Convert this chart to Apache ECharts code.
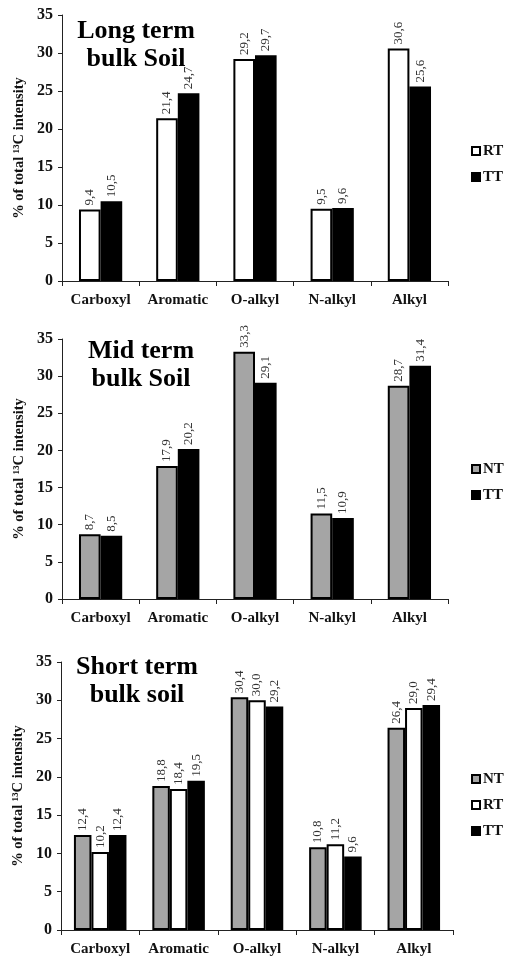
<!DOCTYPE html>
<html>
<head>
<meta charset="utf-8">
<script src="https://cdn.jsdelivr.net/npm/echarts@6/dist/echarts.min.js"></script>
<style>
html,body{margin:0;padding:0;background:#fff;}
#c{width:505px;height:960px;}
</style>
</head>
<body>
<div id="c"></div>
<script>
const categories = ['Carboxyl', 'Aromatic', 'O-alkyl', 'N-alkyl', 'Alkyl'];
const yTicks = [0, 5, 10, 15, 20, 25, 30, 35];

const longRT = [9.4, 21.4, 29.2, 9.5, 30.6];
const longTT = [10.5, 24.7, 29.7, 9.6, 25.6];

const midNT = [8.7, 17.9, 33.3, 11.5, 28.7];
const midTT = [8.5, 20.2, 29.1, 10.9, 31.4];

const shortNT = [12.4, 18.8, 30.4, 10.8, 26.4];
const shortRT = [10.2, 18.4, 30.0, 11.2, 29.0];
const shortTT = [12.4, 19.5, 29.2, 9.6, 29.4];

const titles = ['Long term\nbulk Soil', 'Mid term\nbulk Soil', 'Short term\nbulk soil'];

const FONT = '"Liberation Serif", "Times New Roman", serif';
const colors = { NT: '#a5a5a5', RT: '#ffffff', TT: '#000000' };

const grids = [
  { left: 62, right: 57, top: 15, height: 266 },
  { left: 62, right: 57, top: 339, height: 260 },
  { left: 61, right: 52, top: 662, height: 268 }
];

function xAxis(i) {
  return {
    type: 'category', gridIndex: i, data: categories,
    axisLine: { lineStyle: { color: '#222', width: 1 } },
    axisTick: { show: true, alignWithLabel: false, length: 5, lineStyle: { color: '#222' } },
    axisLabel: { interval: 0, margin: 12, color: '#111', fontFamily: FONT, fontWeight: 'bold', fontSize: 15 }
  };
}
function yAxis(i) {
  return {
    type: 'value', gridIndex: i, min: yTicks[0], max: yTicks[yTicks.length - 1], interval: 5,
    name: '% of total ¹³C intensity', nameLocation: 'middle', nameRotate: 90, nameGap: 35,
    nameMoveOverlap: false,
    nameTextStyle: { color: '#111', fontFamily: FONT, fontWeight: 'bold', fontSize: 14.5 },
    axisLine: { show: true, lineStyle: { color: '#222', width: 1 } },
    axisTick: { show: true, length: 4, lineStyle: { color: '#222' } },
    splitLine: { show: false },
    axisLabel: { margin: 9, color: '#111', fontFamily: FONT, fontWeight: 'bold', fontSize: 16 }
  };
}
function bar(name, data, i, gap) {
  return {
    type: 'bar', name: name, data: data, xAxisIndex: i, yAxisIndex: i,
    barGap: '0%', barCategoryGap: gap,
    itemStyle: { color: colors[name], borderColor: '#000', borderWidth: 2 },
    label: {
      show: true, position: 'top', rotate: 90, align: 'left', verticalAlign: 'middle', distance: 4,
      fontFamily: FONT, fontSize: 13, color: '#333',
      formatter: p => p.value.toFixed(1).replace('.', ',')
    }
  };
}
function legend(names, top) {
  return {
    orient: 'vertical', left: 466, top: top, itemWidth: 8, itemHeight: 8, itemGap: 10,
    icon: 'rect', data: names, selectedMode: false,
    textStyle: { color: '#111', fontFamily: FONT, fontWeight: 'bold', fontSize: 15, lineHeight: 16, padding: [0, 0, 0, -2] }
  };
}
const titleX = [131, 136, 132];
const titleTop = [12, 332, 648];

const option = {
  animation: false,
  backgroundColor: '#fff',
  title: titles.map((t, i) => ({
    text: t, left: titleX[i], top: titleTop[i], textAlign: 'center',
    textStyle: { fontFamily: FONT, fontWeight: 'bold', fontSize: 26, lineHeight: 28, color: '#000' }
  })),
  grid: grids,
  xAxis: [xAxis(0), xAxis(1), xAxis(2)],
  yAxis: [yAxis(0), yAxis(1), yAxis(2)],
  legend: [legend(['RT', 'TT'], 138), legend(['NT', 'TT'], 456), legend(['NT', 'RT', 'TT'], 766)],
  series: [
    bar('RT', longRT, 0, '44%'), bar('TT', longTT, 0, '44%'),
    bar('NT', midNT, 1, '44%'), bar('TT', midTT, 1, '44%'),
    bar('NT', shortNT, 2, '33%'), bar('RT', shortRT, 2, '33%'), bar('TT', shortTT, 2, '33%')
  ]
};
echarts.init(document.getElementById('c'), null, { renderer: 'canvas' }).setOption(option);
</script>
</body>
</html>
